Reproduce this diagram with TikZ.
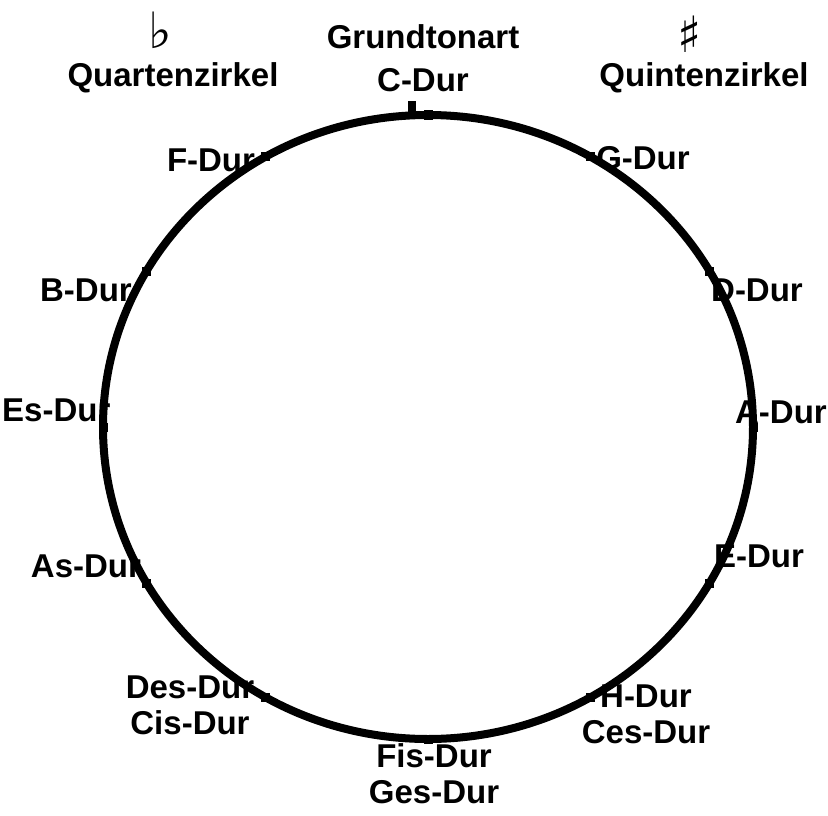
\documentclass[tikz,border=0pt]{standalone}
\usepackage{fontspec}
\setmainfont{Liberation Sans}
\newfontfamily\symfont{DejaVu Sans}
\begin{document}
\begin{tikzpicture}[x=1pt,y=1pt,
  lab/.style={font=\fontsize{33}{36}\selectfont\bfseries, align=center, inner sep=0pt, text=black},
  symb/.style={font=\fontsize{50}{50}\selectfont\symfont, inner sep=0pt, text=black},
  tick/.style={fill=black, minimum size=9pt, inner sep=0pt, rectangle}]
\useasboundingbox (0,0) rectangle (828,-816);
\fill[white] (0,0) rectangle (828,-816);
\draw[line width=8pt, black] (428,-427) ellipse [x radius=325, y radius=312];
% ticks on the circle
\foreach \a/\n in {90/t0,60/t1,30/t2,0/t3,-30/t4,-60/t5,-90/t6,-120/t7,-150/t8,180/t9,150/t10,120/t11}{
  \node[tick] (\n) at ({428+325*cos(\a)},{-427+312*sin(\a)}) {};
}
\node[fill=black, minimum width=8pt, minimum height=14pt, inner sep=0pt] (topmark) at (412,-108) {};
% top labels
\node[lab] (top1) at (423,-37) {Grundtonart};
\node[lab] (top2) at (423,-80) {C-Dur};
\node[symb] (flat) at (160,-30) {♭};
\node[lab] (flatw) at (173,-78) {Quartenzirkel};
\node[symb] (sharp) at (690,-34) {♯};
\node[lab] (sharpw) at (704,-78) {Quintenzirkel};
% around the circle
\node[lab] (G) at (643,-158) {G-Dur};
\node[lab] (D) at (757,-290) {D-Dur};
\node[lab, anchor=east] (A) at (827,-412) {A-Dur};
\node[lab] (E) at (759,-556) {E-Dur};
\node[lab] (H) at (646,-714) {H-Dur\\Ces-Dur};
\node[lab] (Fis) at (434,-774) {Fis-Dur\\Ges-Dur};
\node[lab] (Des) at (190,-705) {Des-Dur\\Cis-Dur};
\node[lab] (As) at (86,-566) {As-Dur};
\node[lab, anchor=west] (Es) at (2,-410) {Es-Dur};
\node[lab] (B) at (86,-290) {B-Dur};
\node[lab] (F) at (211,-160) {F-Dur};
\end{tikzpicture}
\end{document}
